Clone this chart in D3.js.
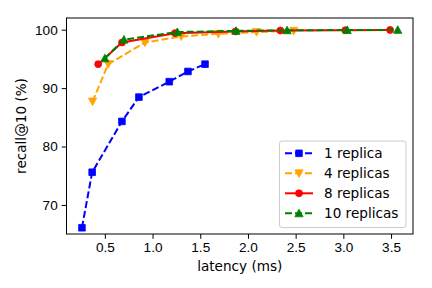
<!DOCTYPE html>
<html lang="en">
<head>
<meta charset="UTF-8">
<title>Recall vs latency</title>
<script src="https://d3js.org/d3.v7.min.js"></script>
<style>
    body { margin: 0; background: #fff; }
    svg { font-family: "DejaVu Sans", sans-serif; }
    .axis path, .axis line { stroke: #000; stroke-width: 1px; }
    .axis text { font-size: 13.6px; fill: #000; }
    .axis-label { font-size: 13.6px; fill: #000; }
    .legend text { font-size: 13.6px; }
</style>
</head>
<body>
<svg width="432" height="288"></svg>
<script>
    // series data: latency (ms) and recall@10 (%)
    var latency1 = [0.26, 0.367, 0.679, 0.857, 1.175, 1.371, 1.55];
    var recall1 = [66.1, 75.6, 84.3, 88.46, 91.1, 92.85, 94.1];
    var latency4 = [0.371, 0.535, 0.92, 1.30, 1.69, 2.09, 2.48];
    var recall4 = [87.7, 94.1, 97.8, 98.85, 99.3, 99.6, 99.8];
    var latency8 = [0.43, 0.68, 1.235, 1.87, 2.34, 3.02, 3.49];
    var recall8 = [94.1, 97.8, 99.4, 99.7, 99.85, 99.9, 99.95];
    var latency10 = [0.50, 0.70, 1.26, 1.875, 2.41, 3.04, 3.57];
    var recall10 = [95.1, 98.3, 99.6, 99.8, 99.9, 99.95, 99.97];
    var seriesNames = ["1 replica", "4 replicas", "8 replicas", "10 replicas"];
    var xTicks = [0.5, 1.0, 1.5, 2.0, 2.5, 3.0, 3.5];
    var yTicks = [70, 80, 90, 100];

    var margin = {top: 18, right: 19, bottom: 54, left: 66.5},
        width = 432 - margin.left - margin.right,
        height = 288 - margin.top - margin.bottom;

    var svg = d3.select("svg")
        .append("g")
        .attr("transform", "translate(" + margin.left + "," + margin.top + ")");

    var x = d3.scaleLinear().domain([0.098, 3.73]).range([0, width]);
    var y = d3.scaleLinear().domain([65.03, 102.0]).range([height, 0]);

    var dashed = "7,3";
    var series = [
        {name: seriesNames[0], xs: latency1, ys: recall1, color: "blue", dash: dashed, marker: "square"},
        {name: seriesNames[1], xs: latency4, ys: recall4, color: "orange", dash: dashed, marker: "down"},
        {name: seriesNames[2], xs: latency8, ys: recall8, color: "red", dash: null, marker: "circle"},
        {name: seriesNames[3], xs: latency10, ys: recall10, color: "green", dash: dashed, marker: "up"}
    ];

    function markerPath(type) {
        if (type === "square") return d3.symbol().type(d3.symbolSquare).size(44)();
        if (type === "circle") return d3.symbol().type(d3.symbolCircle).size(38)();
        var s = 4.1;
        if (type === "up") return "M0," + (-s) + "L" + s + "," + s * 0.85 + "L" + (-s) + "," + s * 0.85 + "Z";
        return "M0," + s + "L" + s + "," + (-s * 0.85) + "L" + (-s) + "," + (-s * 0.85) + "Z";
    }

    // axes
    var xAxis = svg.append("g")
        .attr("class", "axis")
        .attr("transform", "translate(0," + height + ")")
        .call(d3.axisBottom(x).tickValues(xTicks).tickFormat(d3.format(".1f")).tickSizeOuter(0).tickSize(4.8).tickPadding(4));
    var yAxis = svg.append("g")
        .attr("class", "axis")
        .call(d3.axisLeft(y).tickValues(yTicks).tickFormat(d3.format("d")).tickSizeOuter(0).tickSize(4.8).tickPadding(4));
    xAxis.select(".domain").remove();
    yAxis.select(".domain").remove();

    // frame
    svg.append("rect")
        .attr("width", width)
        .attr("height", height)
        .attr("fill", "none")
        .attr("stroke", "#000")
        .attr("stroke-width", 1);

    var plot = svg.append("g");

    series.forEach(function(s) {
        var pts = s.xs.map(function(v, i) { return [v, s.ys[i]]; });
        var line = d3.line()
            .x(function(d) { return x(d[0]); })
            .y(function(d) { return y(d[1]); });
        plot.append("path")
            .datum(pts)
            .attr("d", line)
            .attr("fill", "none")
            .attr("stroke", s.color)
            .attr("stroke-width", 2)
            .attr("stroke-dasharray", s.dash);
        plot.selectAll(null)
            .data(pts)
            .enter().append("path")
            .attr("d", markerPath(s.marker))
            .attr("transform", function(d) { return "translate(" + x(d[0]) + "," + y(d[1]) + ")"; })
            .attr("fill", s.color)
            .attr("stroke", s.color)
            .attr("stroke-width", 0.8);
    });

    // axis labels
    svg.append("text")
        .attr("class", "axis-label")
        .attr("x", width / 2)
        .attr("y", height + 37)
        .attr("text-anchor", "middle")
        .text("latency (ms)");
    svg.append("text")
        .attr("class", "axis-label")
        .attr("transform", "rotate(-90)")
        .attr("x", -height / 2)
        .attr("y", -41)
        .attr("text-anchor", "middle")
        .text("recall@10 (%)");

    // legend
    var lg = svg.append("g")
        .attr("class", "legend")
        .attr("transform", "translate(" + (279.5 - margin.left) + "," + (141 - margin.top) + ")");
    lg.append("rect")
        .attr("width", 126.5)
        .attr("height", 86.5)
        .attr("rx", 2.5)
        .attr("fill", "#fff")
        .attr("fill-opacity", 0.8)
        .attr("stroke", "#ccc")
        .attr("stroke-width", 1);
    series.forEach(function(s, i) {
        var row = lg.append("g").attr("transform", "translate(0," + (12.3 + i * 20) + ")");
        row.append("line")
            .attr("x1", 5.5).attr("x2", 33.5)
            .attr("stroke", s.color)
            .attr("stroke-width", 2)
            .attr("stroke-dasharray", s.dash);
        row.append("path")
            .attr("d", markerPath(s.marker))
            .attr("transform", "translate(19.5,0)")
            .attr("fill", s.color)
            .attr("stroke", s.color)
            .attr("stroke-width", 0.8);
        row.append("text")
            .attr("x", 44.5)
            .attr("y", 4.8)
            .attr("fill", "#000")
            .text(s.name);
    });
</script>
</body>
</html>
